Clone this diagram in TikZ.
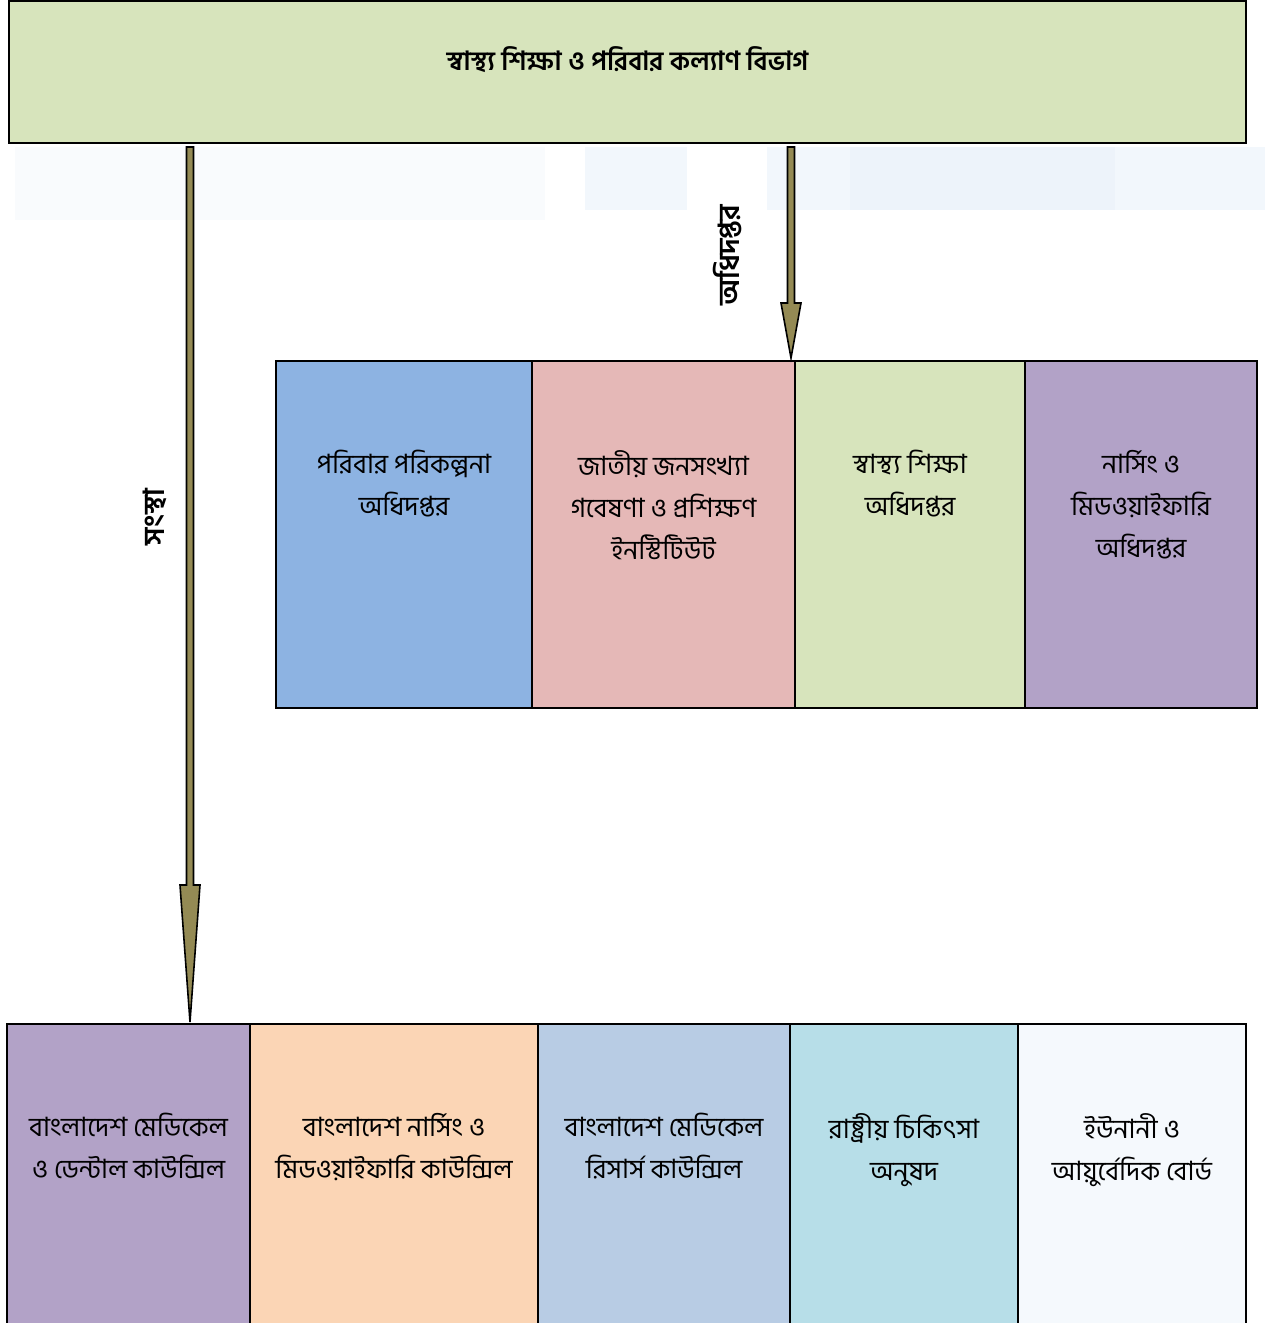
\documentclass[tikz,border=0pt]{standalone}
\usepackage{fontspec}
\newfontfamily\bn[Script=Bengali]{Hind Siliguri}
\usetikzlibrary{calc}
\definecolor{deptgreen}{HTML}{D7E4BC}
\definecolor{arrowolive}{HTML}{948A54}
\definecolor{famblue}{HTML}{8DB3E2}
\definecolor{niportpink}{HTML}{E5B8B7}
\definecolor{nmdpurple}{HTML}{B2A2C7}
\definecolor{bnmcpeach}{HTML}{FBD5B5}
\definecolor{bmrcblue}{HTML}{B8CCE4}
\definecolor{chikcyan}{HTML}{B7DEE8}
\definecolor{unaniwhite}{HTML}{F5F9FD}
\definecolor{hazeA}{HTML}{F9FBFD}
\definecolor{hazeB}{HTML}{F2F7FC}
\definecolor{hazeC}{HTML}{EDF3FA}

\newcommand{\olivearrow}[3]{%
  \filldraw[arrowbody] ($(#1)+(-3.5,4)$)--($(#2)+(-3.5,-#3)$)--($(#2)+(-10,-#3)$)--(#2)
    --($(#2)+(10,-#3)$)--($(#2)+(3.5,-#3)$)--($(#1)+(3.5,4)$)--cycle;}

\begin{document}
\begin{tikzpicture}[x=0.5pt, y=-0.5pt,
    box/.style={draw, line width=1pt, anchor=north west, inner sep=0pt, outer sep=0pt},
    boxtext/.style={anchor=north, inner sep=0pt, align=center, font=\bn\fontsize{13.3}{21}\selectfont},
    sidelabel/.style={rotate=90, inner sep=0pt, font=\bn\bfseries\fontsize{14.5}{21}\selectfont},
    arrowbody/.style={fill=arrowolive, draw=black, line width=0.8pt, line join=miter}]
		\clip(0, 0)rectangle(1265, 1323);
		% faint haze under the top box
		\fill[hazeA](15, 147)rectangle(545, 220);
		\fill[hazeB](585, 147)rectangle(687, 210);
		\fill[hazeB](767, 147)rectangle(850, 210);
		\fill[hazeC](850, 147)rectangle(1115, 210);
		\fill[hazeB](1115, 147)rectangle(1265, 210);
		% top
		\node[box, fill=deptgreen, minimum width=618.5pt, minimum height=71pt](dept)at(9, 1){};
		\node[boxtext, font=\bn\bfseries\fontsize{13.2}{21}\selectfont](deptt)at($(dept.north)+(0, 45)$){স্বাস্থ্য শিক্ষা ও পরিবার কল্যাণ বিভাগ};
		% middle row
		\node[box, fill=famblue, minimum width=128pt, minimum height=173.5pt](famplan)at(276, 361){};
		\node[box, fill=niportpink, minimum width=131.5pt, minimum height=173.5pt](niport)at(532, 361){};
		\node[box, fill=deptgreen, minimum width=115pt, minimum height=173.5pt](hed)at(795, 361){};
		\node[box, fill=nmdpurple, minimum width=116pt, minimum height=173.5pt](nmd)at(1025, 361){};
		\node[boxtext](famplant)at($(famplan.north)+(0, 89)$){পরিবার পরিকল্পনা\\অধিদপ্তর};
		\node[boxtext](niportt)at($(niport.north)+(0, 89)$){জাতীয় জনসংখ্যা\\গবেষণা ও প্রশিক্ষণ\\ইনস্টিটিউট};
		\node[boxtext](hedt)at($(hed.north)+(0, 89)$){স্বাস্থ্য শিক্ষা\\অধিদপ্তর};
		\node[boxtext](nmdt)at($(nmd.north)+(0, 89)$){নার্সিং ও\\মিডওয়াইফারি\\অধিদপ্তর};
		% bottom row
		\node[box, fill=nmdpurple, minimum width=121.5pt, minimum height=158pt](bmdc)at(7, 1024){};
		\node[box, fill=bnmcpeach, minimum width=144pt, minimum height=158pt](bnmc)at(250, 1024){};
		\node[box, fill=bmrcblue, minimum width=126pt, minimum height=158pt](bmrc)at(538, 1024){};
		\node[box, fill=chikcyan, minimum width=114pt, minimum height=158pt](chik)at(790, 1024){};
		\node[box, fill=unaniwhite, minimum width=114pt, minimum height=158pt](unani)at(1018, 1024){};
		\node[boxtext](bmdct)at($(bmdc.north)+(0, 89)$){বাংলাদেশ মেডিকেল\\ও ডেন্টাল কাউন্সিল};
		\node[boxtext](bnmct)at($(bnmc.north)+(0, 89)$){বাংলাদেশ নার্সিং ও\\মিডওয়াইফারি কাউন্সিল};
		\node[boxtext](bmrct)at($(bmrc.north)+(0, 89)$){বাংলাদেশ মেডিকেল\\রিসার্স কাউন্সিল};
		\node[boxtext](chikt)at($(chik.north)+(0, 89)$){রাষ্ট্রীয় চিকিৎসা\\অনুষদ};
		\node[boxtext](unanit)at($(unani.north)+(0, 89)$){ইউনানী ও\\আয়ুর্বেদিক বোর্ড};
		% arrows
		\coordinate(orgtop)at(190, 0 |- dept.south);
		\coordinate(orgtip)at($(190, 0 |- bmdc.north)+(0, -2)$);
		\coordinate(dirtop)at(791, 0 |- dept.south);
		\coordinate(dirtip)at($(791, 0 |- niport.north)+(0, -3)$);
		\olivearrow{orgtop}{orgtip}{137}
		\olivearrow{dirtop}{dirtip}{55}
		\node[sidelabel](orglabel)at(155, 517){সংস্থা};
		\node[sidelabel](dirlabel)at(728, 255){অধিদপ্তর};
\end{tikzpicture}
\end{document}
